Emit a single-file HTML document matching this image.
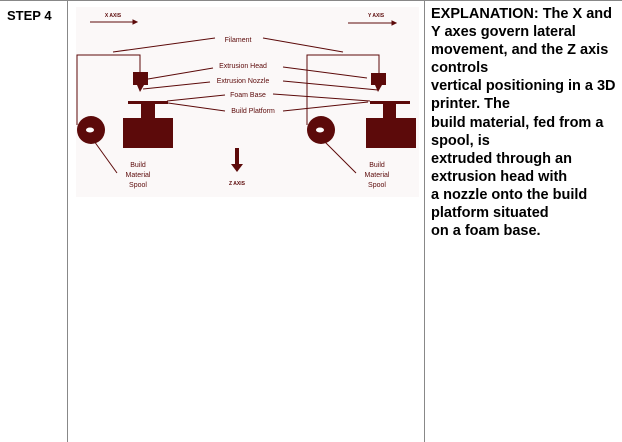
<!DOCTYPE html>
<html><head><style>
body{margin:0;width:622px;height:442px;background:#fff;position:relative;overflow:hidden;font-family:"Liberation Sans",Arial,sans-serif}
.v{position:absolute;top:0;width:1px;height:442px;background:#888}
.s{position:absolute;left:7px;top:8px;font-weight:bold;font-size:13px}
.t{position:absolute;left:431px;top:5px;width:190px;font-weight:bold;font-size:14.5px;line-height:18.1px;color:#000;white-space:nowrap}
</style></head><body>
<div style="position:absolute;top:0;left:0;width:622px;height:1px;background:#888"></div>
<div class="v" style="left:67px"></div>
<div class="v" style="left:424px"></div>
<div class="s">STEP 4</div>
<svg style="position:absolute;left:0;top:0" width="622" height="442">
<rect x="76" y="7" width="343" height="190" fill="#fbf8f8"/>
<g stroke="#5c0a0a" fill="none" stroke-width="1">
<line x1="90" y1="22" x2="135" y2="22"/><polygon points="137,22 133,20 133,24" fill="#5c0a0a"/>
<line x1="348" y1="23" x2="394" y2="23"/><polygon points="396,23 392,21 392,25" fill="#5c0a0a"/>
<line x1="215" y1="38" x2="113" y2="52"/><line x1="263" y1="38" x2="343" y2="52"/>
<polyline points="77,125 77,55 140,55 140,72"/>
<polyline points="307,125 307,55 379,55 379,73"/>
<line x1="213" y1="68" x2="148" y2="79"/><line x1="283" y1="67" x2="367" y2="78"/>
<line x1="210" y1="82" x2="143" y2="89"/><line x1="283" y1="81" x2="378" y2="90"/>
<line x1="225" y1="95" x2="167" y2="101"/><line x1="273" y1="94" x2="370" y2="101"/>
<line x1="225" y1="111" x2="168" y2="103"/><line x1="283" y1="111" x2="368" y2="102"/>
<line x1="94" y1="141" x2="117" y2="173"/><line x1="324" y1="141" x2="356" y2="173"/>
</g>
<g fill="#5c0a0a">
<rect x="133" y="72" width="15" height="13"/><polygon points="137,85 144,85 140,92"/>
<rect x="371" y="73" width="15" height="12"/><polygon points="375,85 382,85 378,92"/>
<rect x="128" y="101" width="40" height="3"/><rect x="141" y="104" width="14" height="14"/><rect x="123" y="118" width="50" height="30"/>
<rect x="370" y="101" width="40" height="3"/><rect x="383" y="104" width="13" height="14"/><rect x="366" y="118" width="50" height="30"/>
<circle cx="91" cy="130" r="14"/><circle cx="321" cy="130" r="14"/>
<rect x="235" y="148" width="4" height="16"/><polygon points="231,164 243,164 237,172"/>
</g>
<ellipse cx="90" cy="130" rx="4" ry="2.5" fill="#fff"/><ellipse cx="320" cy="130" rx="4" ry="2.5" fill="#fff"/>
<g fill="#5c0a0a" font-family="Liberation Sans,sans-serif" text-anchor="middle" font-size="7">
<text x="113" y="17" font-size="5" font-weight="bold">X AXIS</text>
<text x="376" y="17" font-size="5" font-weight="bold">Y AXIS</text>
<text x="238" y="42">Filament</text>
<text x="243" y="68">Extrusion Head</text>
<text x="243" y="83">Extrusion Nozzle</text>
<text x="248" y="97">Foam Base</text>
<text x="253" y="113">Build Platform</text>
<text x="138" y="167">Build</text><text x="138" y="177">Material</text><text x="138" y="187">Spool</text>
<text x="377" y="167">Build</text><text x="377" y="177">Material</text><text x="377" y="187">Spool</text>
<text x="237" y="185" font-size="5" font-weight="bold">Z AXIS</text>
</g>
</svg>
<div class="t">EXPLANATION: The X and<br>Y axes govern lateral<br>movement, and the Z axis<br>controls<br>vertical positioning in a 3D<br>printer. The<br>build material, fed from a<br>spool, is<br>extruded through an<br>extrusion head with<br>a nozzle onto the build<br>platform situated<br>on a foam base.</div>
</body></html>
